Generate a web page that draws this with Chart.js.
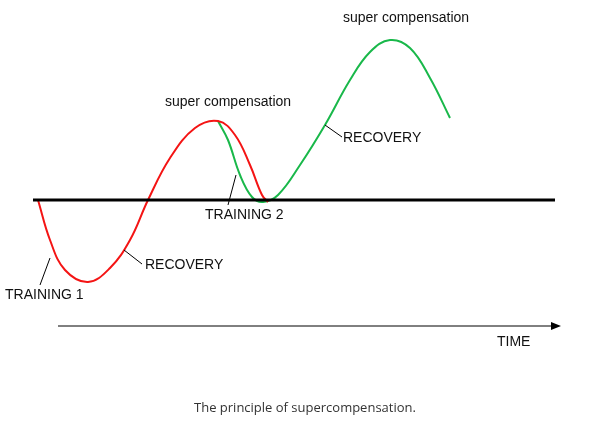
<!DOCTYPE html>
<html><head><meta charset="utf-8">
<script src="https://cdn.jsdelivr.net/npm/chart.js@4"></script>
<style>
html,body{margin:0;padding:0;background:#fff;}
#wrap{position:relative;width:610px;height:425px;}
#cap{position:absolute;left:0;width:610px;top:398px;text-align:center;font:13px "Open Sans",sans-serif;color:#333;}
</style></head><body>
<div id="wrap"><canvas id="c" width="610" height="425"></canvas><div id="cap">The principle of supercompensation.</div></div>
<script>
// time (x) and performance level (y, baseline = 0)
const redX = [38,50,65,88,110,130,148,170,195,218,235,250,262,268];
const redY = [0,-40,-70,-82,-68,-40,0,42,72,79,65,35,5,-2];
const greenX = [218,228,240,252,263,278,300,325,350,370,390,410,430,450];
const greenY = [79,60,25,3,-2,5,35,75,120,148,160,152,122,82];
const baseX = [33,555];
const baseY = [0,0];
const timeX = [58,558];
const timeY = [-126,-126];
// labels: text, label x/y, leader from x/y to x/y
const labels = [
  {t:'TRAINING 1', x:5, y:-95, l:[50,-58,40,-85]},
  {t:'RECOVERY', x:145, y:-65, l:[124,-50,142,-64]},
  {t:'super compensation', x:165, y:98, l:null},
  {t:'TRAINING 2', x:205, y:-15, l:[236,25,228,-5]},
  {t:'RECOVERY', x:343, y:62, l:[325,75,342,63]},
  {t:'super compensation', x:343, y:182, l:null},
  {t:'TIME', x:497, y:-142, l:null}
];
const pts=(xs,ys)=>xs.map((x,i)=>({x,y:ys[i]}));
const deco = {
  id:'deco',
  afterDatasetsDraw(ch){
    const c=ch.ctx, xs=ch.scales.x, ys=ch.scales.y;
    c.save();
    c.strokeStyle='#000'; c.lineWidth=1;
    labels.forEach(L=>{
      if(L.l){c.beginPath();c.moveTo(xs.getPixelForValue(L.l[0]),ys.getPixelForValue(L.l[1]));
        c.lineTo(xs.getPixelForValue(L.l[2]),ys.getPixelForValue(L.l[3]));c.stroke();}
      c.fillStyle='#111'; c.font='14px "Liberation Sans", Arial, sans-serif';
      c.textBaseline='middle';
      c.fillText(L.t, xs.getPixelForValue(L.x), ys.getPixelForValue(L.y));
    });
    const ax=xs.getPixelForValue(timeX[1]), ay=ys.getPixelForValue(timeY[1]);
    c.fillStyle='#000'; c.beginPath(); c.moveTo(ax+3,ay); c.lineTo(ax-7,ay-4); c.lineTo(ax-7,ay+4); c.closePath(); c.fill();
    c.restore();
  }
};
new Chart(document.getElementById('c'),{
  type:'scatter',
  data:{datasets:[
    {data:pts(baseX,baseY),showLine:true,borderColor:'#000',borderWidth:3,pointRadius:0},
    {data:pts(timeX,timeY),showLine:true,borderColor:'#000',borderWidth:1,pointRadius:0},
    {data:pts(redX,redY),showLine:true,borderColor:'#f41414',borderWidth:2,pointRadius:0,tension:0.4},
    {data:pts(greenX,greenY),showLine:true,borderColor:'#19b84a',borderWidth:2,pointRadius:0,tension:0.4}
  ]},
  options:{responsive:false,animation:false,
    layout:{padding:0},
    plugins:{legend:{display:false},tooltip:{enabled:false}},
    scales:{x:{type:'linear',min:0,max:610,display:false},y:{type:'linear',min:-225,max:200,display:false}}
  },
  plugins:[deco]
});
</script></body></html>
